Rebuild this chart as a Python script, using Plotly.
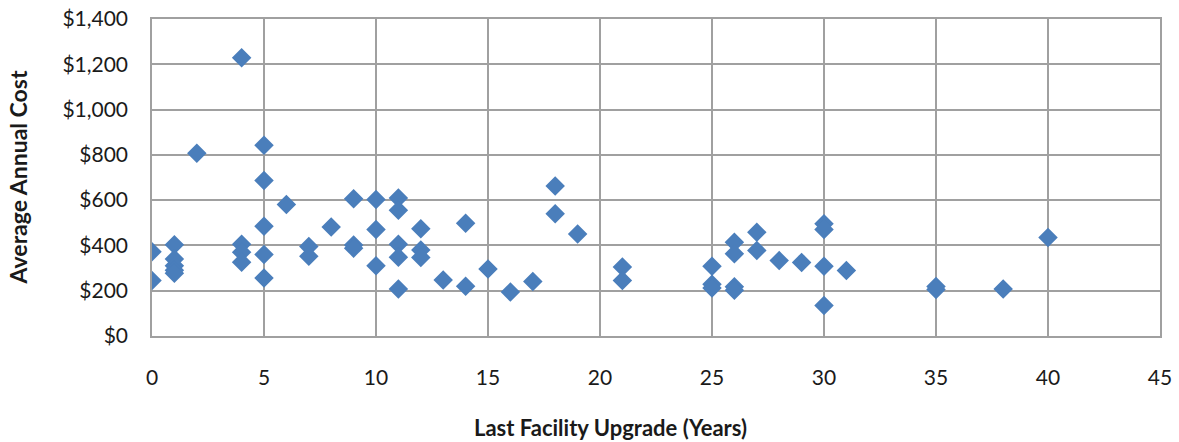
import plotly.graph_objects as go

# Last facility upgrade (years) and average annual cost ($)
years = [0, 0,
         1, 1, 1, 1, 1,
         2,
         4, 4, 4, 4,
         5, 5, 5, 5, 5,
         6,
         7, 7,
         8,
         9, 9, 9,
         10, 10, 10,
         11, 11, 11, 11, 11,
         12, 12, 12,
         13,
         14, 14,
         15,
         16,
         17,
         18, 18,
         19,
         21, 21,
         25, 25, 25,
         26, 26, 26, 26,
         27, 27,
         28,
         29,
         30, 30, 30, 30,
         31,
         35, 35,
         38,
         40]
avg_cost = [372, 245,
            403, 340, 310, 290, 277,
            807,
            1229, 405, 370, 326,
            842, 687, 485, 360, 256,
            581,
            395, 352,
            481,
            606, 402, 388,
            603, 470, 310,
            610, 555, 405, 348, 208,
            474, 380, 347,
            247,
            498, 220,
            296,
            194,
            241,
            662, 540,
            450,
            305, 245,
            308, 228, 212,
            414, 363, 218, 202,
            458, 378,
            333,
            325,
            496, 470, 308, 135,
            289,
            219, 205,
            208,
            435]

x_ticks = [0, 5, 10, 15, 20, 25, 30, 35, 40, 45]
y_ticks = [0, 200, 400, 600, 800, 1000, 1200, 1400]

fig = go.Figure()
fig.add_trace(go.Scatter(
    x=years, y=avg_cost, mode="markers",
    marker=dict(symbol="diamond", size=15, color="#4a7ebb", line=dict(width=0)),
    hoverinfo="x+y", showlegend=False,
))

font_family = "Lato, 'Open Sans', 'DejaVu Sans', sans-serif"
grid_col = "#a0a0a0"
text_col = "#1a1a1a"

fig.update_layout(
    width=1179, height=442,
    margin=dict(l=152, r=19, t=19, b=106),
    paper_bgcolor="white", plot_bgcolor="white",
    font=dict(family=font_family, size=21, color=text_col),
    xaxis=dict(
        range=[0, 45], tickvals=x_ticks, ticks="", ticklabelstandoff=22,
        ticklabeloverflow="allow",
        showgrid=True, gridcolor=grid_col, gridwidth=1.5,
        showline=True, linecolor=grid_col, linewidth=1.5, mirror=True,
        zeroline=False, automargin=False,
    ),
    yaxis=dict(
        range=[0, 1400], tickvals=y_ticks, tickformat="$,",
        ticks="", ticklabelstandoff=18, ticklabeloverflow="allow",
        showgrid=True, gridcolor=grid_col, gridwidth=1.5,
        showline=True, linecolor=grid_col, linewidth=1.5, mirror=True,
        zeroline=False, automargin=False,
    ),
    annotations=[
        dict(text="<b>Average Annual Cost</b>", textangle=-90,
             xref="paper", yref="paper", x=-0.133, y=0.5,
             xanchor="center", yanchor="middle", showarrow=False,
             font=dict(size=23, family=font_family, color=text_col)),
        dict(text="<b>Last Facility Upgrade (Years)</b>",
             xref="paper", yref="paper", x=0.455, y=-0.289,
             xanchor="center", yanchor="middle", showarrow=False,
             font=dict(size=22, family=font_family, color=text_col)),
    ],
)

fig.write_html(
    "out.html",
    config={"displayModeBar": False},
    post_script="document.body.style.margin='0';document.body.style.overflow='hidden';",
)
